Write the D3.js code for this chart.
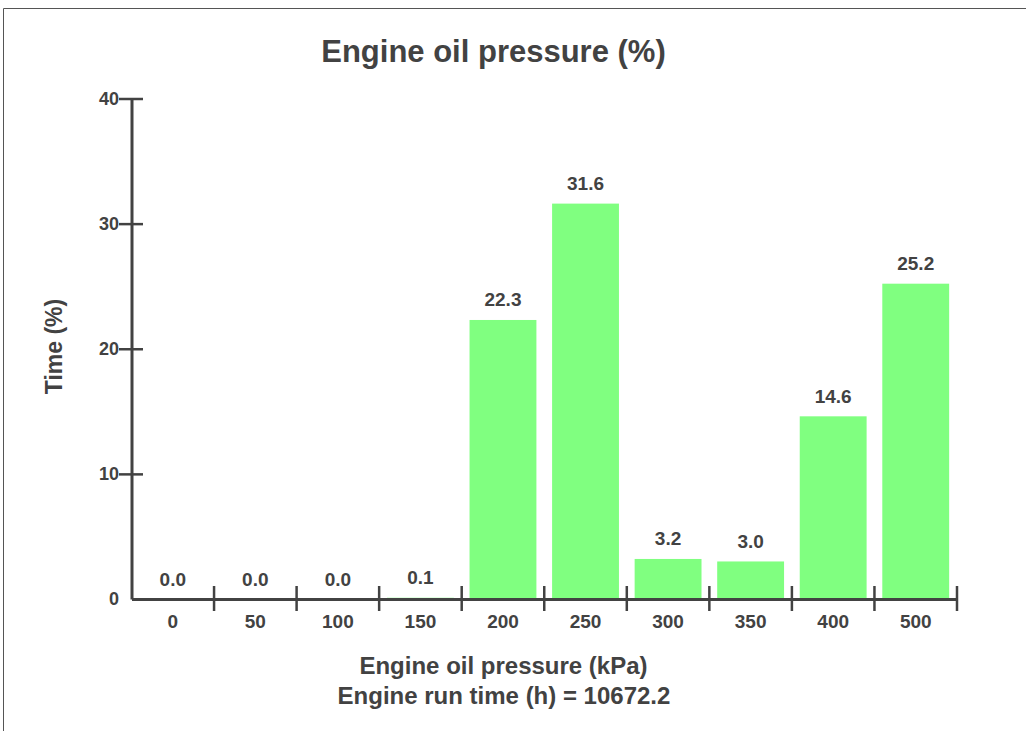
<!DOCTYPE html>
<html><head><meta charset="utf-8">
<script src="https://cdn.jsdelivr.net/npm/d3@7"></script>
<style>
html,body{margin:0;padding:0;background:#fff;}
svg{display:block;font-family:"Liberation Sans",Arial,Helvetica,sans-serif;font-weight:bold;}
</style></head>
<body>
<svg id="chart" width="1026" height="731"></svg>
<script>
const categories = ["0","50","100","150","200","250","300","350","400","500"];
const values = [0.0,0.0,0.0,0.1,22.3,31.6,3.2,3.0,14.6,25.2];
const yTicks = [0,10,20,30,40];
const titleText = "Engine oil pressure (%)";
const xTitle1 = "Engine oil pressure (kPa)";
const xTitle2 = "Engine run time (h) = 10672.2";
const yTitle = "Time (%)";

(function(){
const svg = d3.select("#chart");
const ink = "#424242";
const pLeft = 131.5, pRight = 957, pTop = 98.5, pBottom = 599;

// frame
svg.append("path").attr("d","M3.5,731V8.5H1026").attr("fill","none").attr("stroke","#555").attr("stroke-width",1);

const x = d3.scaleBand().domain(categories).range([pLeft,pRight]).paddingInner(0.19).paddingOuter(0.095);
const y = d3.scaleLinear().domain([0,40]).range([pBottom,pTop]);

// bars
svg.append("g").selectAll("rect").data(values).join("rect")
  .attr("x",(d,i)=>x(categories[i]))
  .attr("width",x.bandwidth())
  .attr("y",d=>y(d))
  .attr("height",d=>pBottom-y(d))
  .attr("fill","#80ff80");

// value labels
svg.append("g").selectAll("text").data(values).join("text")
  .attr("x",(d,i)=>x(categories[i])+x.bandwidth()/2)
  .attr("y",d=>y(d)-13.5)
  .attr("text-anchor","middle")
  .attr("font-size",19)
  .attr("fill",ink)
  .text(d=>d.toFixed(1));

// y axis
const ya = svg.append("g").attr("transform",`translate(${pLeft},0)`)
  .call(d3.axisLeft(y).tickValues(yTicks).tickSize(0).tickPadding(12.5));
ya.select(".domain").attr("stroke",ink).attr("stroke-width",3);
ya.selectAll(".tick text").attr("font-size",18).attr("fill",ink).attr("font-family",null).attr("font-weight","bold");
ya.selectAll(".tick").filter(d=>d!==0).append("line").attr("x1",-12.5).attr("x2",11.5).attr("stroke",ink).attr("stroke-width",2.5);

// x axis
const xa = svg.append("g").attr("transform",`translate(0,${pBottom})`)
  .call(d3.axisBottom(x).tickSize(0));
xa.select(".domain").attr("stroke",ink).attr("stroke-width",3);
xa.selectAll(".tick text").attr("font-size",19).attr("fill",ink).attr("font-family",null).attr("font-weight","bold").attr("y",29).attr("dy",null);
xa.append("g").selectAll("line").data(categories).join("line")
  .attr("x1",d=>x(d)-x.step()*0.095+x.step())
  .attr("x2",d=>x(d)-x.step()*0.095+x.step())
  .attr("y1",-13).attr("y2",12)
  .attr("stroke",ink).attr("stroke-width",2.5);

// titles
svg.append("text").attr("x",493.5).attr("y",62).attr("text-anchor","middle").attr("font-size",31).attr("fill",ink).text(titleText);
svg.append("text").attr("x",503.5).attr("y",674).attr("text-anchor","middle").attr("font-size",24).attr("fill",ink).text(xTitle1);
svg.append("text").attr("x",504).attr("y",704).attr("text-anchor","middle").attr("font-size",24).attr("fill",ink).text(xTitle2);
svg.append("text").attr("transform","translate(62,346.5) rotate(-90)").attr("text-anchor","middle").attr("font-size",23).attr("fill",ink).text(yTitle);
})();
</script>
</body></html>
